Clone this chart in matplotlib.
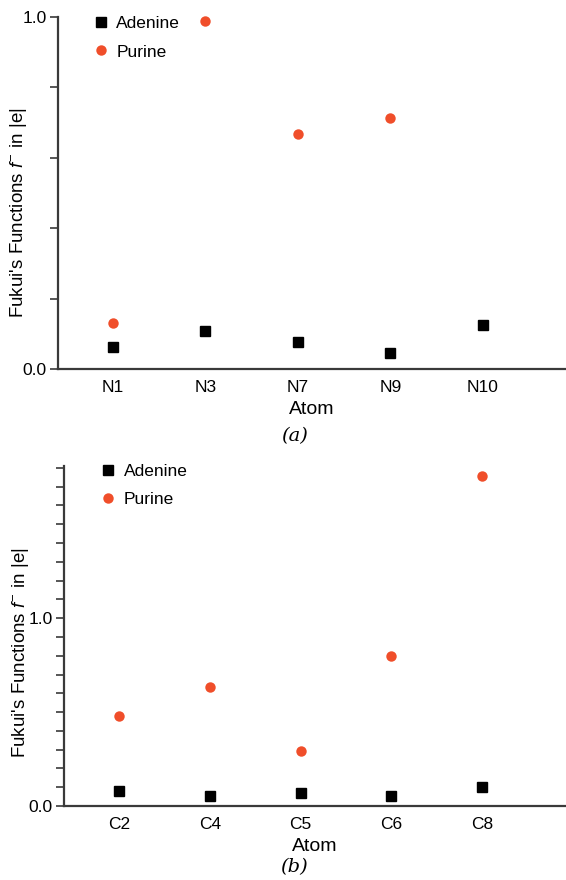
import matplotlib
matplotlib.use("Agg")
import matplotlib.pyplot as plt
from matplotlib.ticker import MultipleLocator, FixedLocator
import numpy as np

plt.rcParams['font.family'] = ['Liberation Sans', 'DejaVu Sans']
plt.rcParams['mathtext.fontset'] = 'custom'
plt.rcParams['mathtext.it'] = 'Liberation Sans:italic'
plt.rcParams['mathtext.rm'] = 'Liberation Sans'

# Panel (a): nitrogen atoms
atoms_a = ["N1", "N3", "N7", "N9", "N10"]
adenine_a = [0.062, 0.108, 0.078, 0.046, 0.126]
purine_a = [0.130, 0.990, 0.667, 0.712, None]

# Panel (b): carbon atoms
atoms_b = ["C2", "C4", "C5", "C6", "C8"]
adenine_b = [0.080, 0.052, 0.071, 0.055, 0.099]
purine_b = [0.481, 0.636, 0.295, 0.796, 1.755]

ylabel = r"Fukui's Functions $f^{-}$ in |e|"
purine_color = "#F04E2A"
spine_color = "#3a3a3a"

fig = plt.figure(figsize=(5.66, 8.8), dpi=100)
W, H = 566, 880

def make_ax(left_px, top_px, bottom_px):
    return fig.add_axes([left_px / W, 1 - bottom_px / H, (W - left_px) / W, (bottom_px - top_px) / H])

ax_a = make_ax(58, 17, 369)
ax_b = make_ax(64, 466, 806)

def style(ax, atoms, adenine, purine, ymax, minor_step, letter, label_y_px,
          xlim, leg_anchor, ylabel_xy):
    x = np.arange(len(atoms))
    ax.plot(x, adenine, linestyle='none', marker='s', color='black', markersize=6.5, label='Adenine', zorder=3)
    xp = [xi for xi, v in zip(x, purine) if v is not None]
    yp = [v for v in purine if v is not None]
    ax.plot(xp, yp, linestyle='none', marker='o', color=purine_color, markersize=7.5,
            markeredgewidth=0, label='Purine', zorder=3, clip_on=False)
    ax.set_xlim(*xlim)
    ax.set_ylim(0, ymax)
    ax.set_xticks(x)
    ax.set_xticklabels(atoms, fontsize=12.5)
    ax.yaxis.set_major_locator(FixedLocator([0.0, 1.0]))
    ax.set_yticklabels(["0.0", "1.0"], fontsize=12.5)
    ax.yaxis.set_minor_locator(MultipleLocator(minor_step))
    ax.tick_params(axis='x', length=0, pad=8)
    ax.tick_params(axis='y', which='major', length=6, width=1.2, color=spine_color, pad=2)
    ax.tick_params(axis='y', which='minor', length=6, width=1.2, color=spine_color)
    for s in ['top', 'right']:
        ax.spines[s].set_visible(False)
    for s in ['left', 'bottom']:
        ax.spines[s].set_color(spine_color)
        ax.spines[s].set_linewidth(1.6)
    ax.set_xlabel("Atom", fontsize=14, labelpad=4)
    ax.set_ylabel(ylabel, fontsize=13.5)
    ax.yaxis.set_label_coords(*ylabel_xy)
    ax.legend(loc='upper left', bbox_to_anchor=leg_anchor, frameon=False, fontsize=12.5,
              handletextpad=0.3, labelspacing=0.75, borderaxespad=0, handlelength=1.2)
    fig.text(0.5 + 0.02, 1 - label_y_px / H, letter, ha='center', va='center',
             fontsize=14, family='DejaVu Serif', style='italic')

style(ax_a, atoms_a, adenine_a, purine_a, 1.0, 0.2, "(a)", 436,
      (-0.595, 4.9), (0.05, 1.022), (-0.058, 0.445))
style(ax_b, atoms_b, adenine_b, purine_b, 1.81, 0.1, "(b)", 867,
      (-0.61, 4.93), (0.054, 1.026), (-0.066, 0.45))

fig.savefig("out.png", dpi=100)
